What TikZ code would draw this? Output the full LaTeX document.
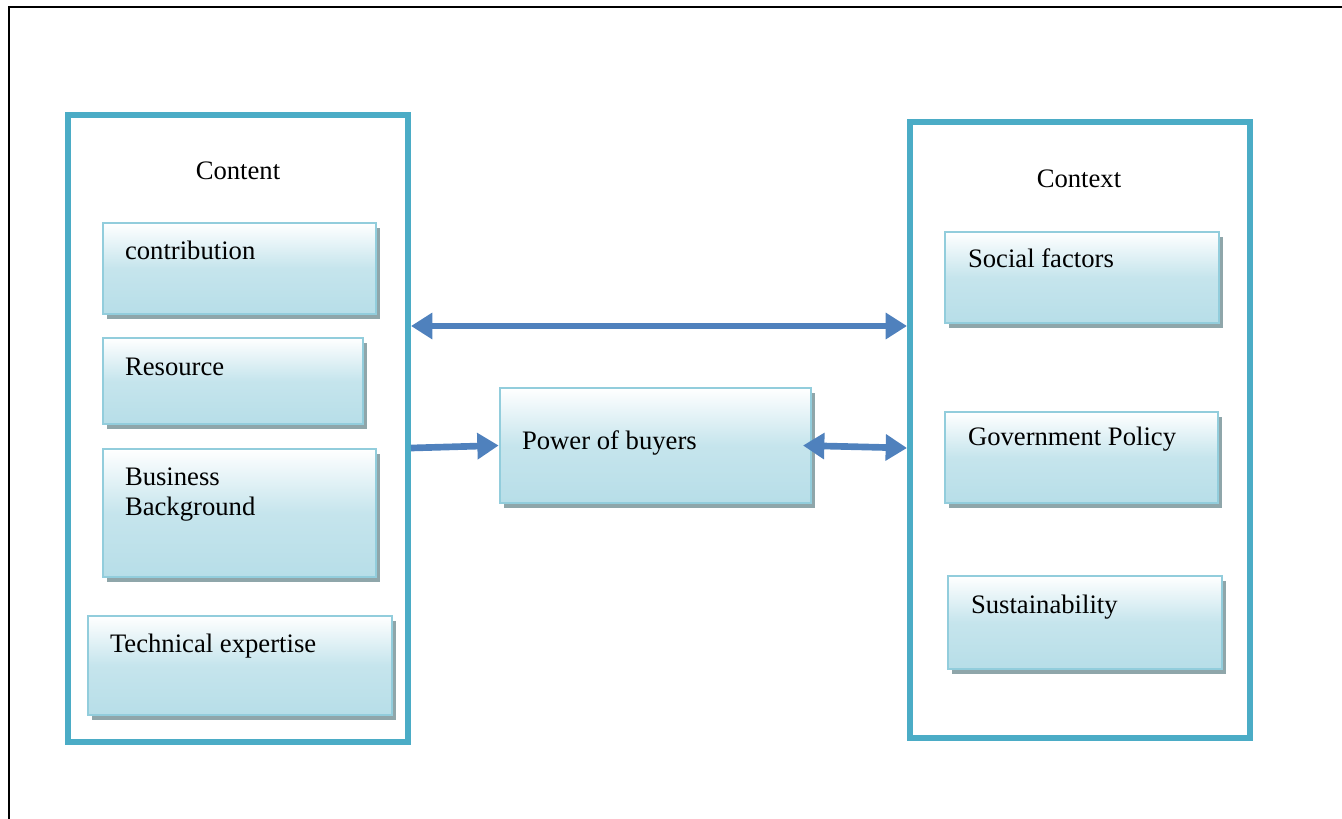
\documentclass[tikz,border=0pt]{standalone}
\usepackage{fontspec}
\setmainfont{Liberation Serif}
\usetikzlibrary{%
  arrows.meta,%
  shadows,%
  fit,%
  positioning% wg. " of "
}
\definecolor{frameblue}{HTML}{4BACC6}
\definecolor{itemline}{HTML}{92CDDC}
\definecolor{itemfill}{HTML}{B7DEE8}
\definecolor{arrowblue}{HTML}{4F81BD}
\definecolor{shadowgray}{HTML}{8FA6AA}

\begin{document}
\begin{tikzpicture}
[x=0.75pt, y=-0.75pt, line width=1.5pt,
group/.style={rectangle, draw=frameblue, line width=4.5pt, inner sep=0pt},
factor/.style={rectangle, draw=itemline, line width=2pt, inner sep=0pt,
  top color=white, bottom color=itemfill, middle color=itemfill!80!white,
  drop shadow={shadow xshift=3pt, shadow yshift=-3.5pt, fill=shadowgray, opacity=1}},
factortext/.style={inner sep=0pt, anchor=base west, align=left,
  font=\fontsize{20pt}{22.5pt}\selectfont},
flow/.style={draw=arrowblue, line width=5pt, -{Triangle[length=16pt, width=19pt]}},
dualflow/.style={flow, {Triangle[length=16pt, width=19pt]}-{Triangle[length=16pt, width=19pt]}}]

\useasboundingbox (0,0) rectangle (1342,818);
\draw (9,7) rectangle (1400,900);

% the two groups
\node[group, fit={(68,115) (408,742)}] (content) {};
\node[group, fit={(910,122) (1250,738)}] (context) {};
\node[factortext, anchor=base] (contenttxt) at (238,179) {Content};
\node[factortext, anchor=base] (contexttxt) at (1079,187) {Context};

% content side
\node[factor, fit={(103,223) (376,314)}] (contribution) {};
\node[factor, fit={(103,338) (363,424)}] (resource) {};
\node[factor, fit={(103,449) (376,577)}] (business) {};
\node[factor, fit={(88,616) (392,715)}] (technical) {};
\node[factortext] (contributiontxt) at (124,259) {contribution};
\node[factortext] (resourcetxt) at (124,375) {Resource};
\node[factortext] (businesstxt) at (124,515) {Business\\Background};
\node[factortext] (technicaltxt) at (109,652) {Technical expertise};

% middle
\node[factor, fit={(500,388) (811,503)}] (buyers) {};
\node[factortext] (buyerstxt) at (521,449) {Power of buyers};

% context side
\node[factor, fit={(945,232) (1219,323)}] (social) {};
\node[factor, fit={(945,412) (1218,503)}] (policy) {};
\node[factor, fit={(948,576) (1222,669)}] (sustain) {};
\node[factortext] (socialtxt) at (967,267) {Social factors};
\node[factortext] (policytxt) at (967,445) {Government Policy};
\node[factortext] (sustaintxt) at (970,613) {Sustainability};

% connectors
\coordinate (toplevel) at (0,326);
\coordinate (midlevel) at (0,448);
\draw[dualflow] (content.east |- toplevel) -- (context.west |- toplevel);
\draw[flow] (content.east |- midlevel) -- (buyers.west);
\draw[dualflow] ([xshift=-7pt]buyers.east) -- (context.west |- midlevel);
\end{tikzpicture}
\end{document}
